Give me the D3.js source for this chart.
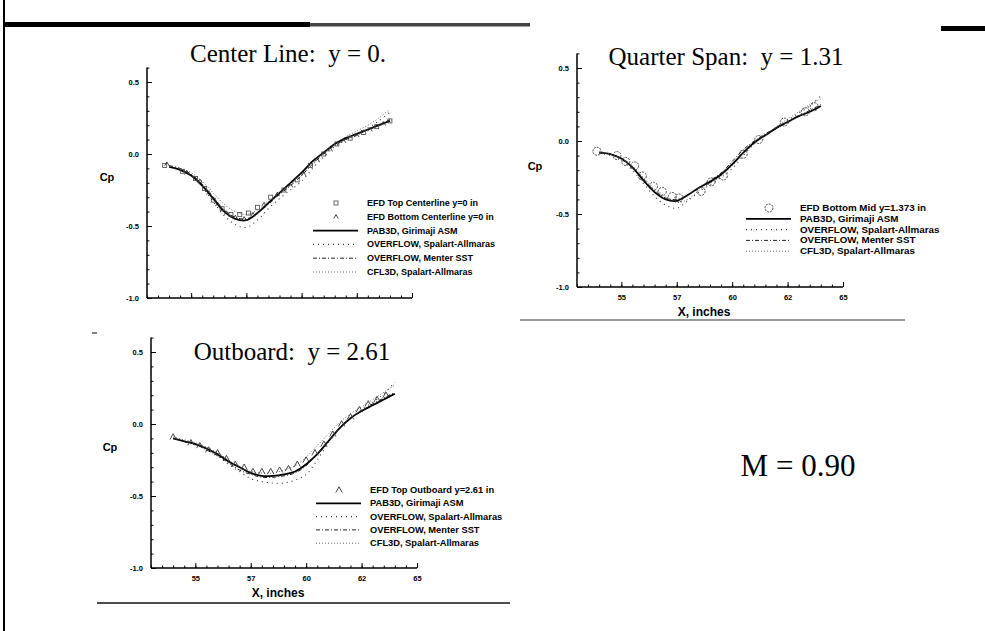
<!DOCTYPE html>
<html>
<head>
<meta charset="utf-8">
<script src="https://cdn.jsdelivr.net/npm/d3@7"></script>
<style>
  body { margin: 0; background: #fff; }
  svg { display: block; }
  .tick text { font-family: "Liberation Sans", Arial, sans-serif; font-weight: bold; font-size: 7.5px; fill: #000; }
  .lg { font-family: "Liberation Sans", Arial, sans-serif; font-weight: bold; fill: #000; }
  .ttl { font-family: "Liberation Serif", "Times New Roman", serif; fill: #000; }
  .lab { font-family: "Liberation Sans", Arial, sans-serif; font-weight: bold; fill: #000; }
</style>
</head>
<body>
<div id="chart"></div>
<script>
// x stations of the computed curves (inches)
const modelX = [54, 54.5, 55, 55.5, 56, 56.5, 57, 57.5, 58, 58.5, 59, 59.5, 60, 60.5, 61, 61.5, 62, 62.5, 63, 63.5, 64];

const modelNames = ["PAB3D, Girimaji ASM", "OVERFLOW, Spalart-Allmaras", "OVERFLOW, Menter SST", "CFL3D, Spalart-Allmaras"];

// center line y = 0
const centerPab3d = [-0.09, -0.11, -0.15, -0.22, -0.31, -0.40, -0.45, -0.46, -0.41, -0.34, -0.27, -0.20, -0.13, -0.05, 0.01, 0.07, 0.11, 0.14, 0.17, 0.20, 0.23];
const centerOvfSa = [-0.09, -0.11, -0.15, -0.23, -0.33, -0.43, -0.49, -0.51, -0.46, -0.38, -0.31, -0.25, -0.19, -0.10, -0.02, 0.05, 0.10, 0.14, 0.18, 0.23, 0.29];
const centerOvfSst = [-0.08, -0.10, -0.14, -0.21, -0.30, -0.39, -0.44, -0.45, -0.41, -0.35, -0.28, -0.22, -0.15, -0.07, 0.00, 0.06, 0.10, 0.13, 0.17, 0.20, 0.24];
const centerCfl3d = [-0.08, -0.10, -0.13, -0.19, -0.27, -0.35, -0.40, -0.42, -0.39, -0.33, -0.27, -0.21, -0.14, -0.06, 0.01, 0.07, 0.12, 0.16, 0.20, 0.25, 0.31];
const centerTopX = [53.8, 54.6, 55.2, 55.6, 56.0, 56.4, 56.8, 57.2, 57.6, 58.0, 58.6, 59.2, 59.8, 60.4, 61.0, 61.6, 62.2, 62.8, 63.4, 64.0];
const centerTopCp = [-0.08, -0.12, -0.17, -0.24, -0.32, -0.38, -0.42, -0.42, -0.41, -0.37, -0.30, -0.25, -0.18, -0.08, 0.00, 0.07, 0.11, 0.15, 0.19, 0.23];
const centerBotX = [53.9, 54.8, 55.4, 55.8, 56.2, 56.6, 57.0, 57.4, 57.8, 58.3, 58.9, 59.5, 60.1, 60.7, 61.3, 61.9, 62.5, 63.1, 63.7];
const centerBotCp = [-0.07, -0.13, -0.19, -0.27, -0.35, -0.41, -0.44, -0.45, -0.42, -0.35, -0.28, -0.22, -0.14, -0.04, 0.03, 0.09, 0.13, 0.17, 0.21];

// quarter span y = 1.31
const quarterPab3d = [-0.08, -0.09, -0.12, -0.18, -0.27, -0.35, -0.40, -0.41, -0.37, -0.32, -0.28, -0.23, -0.16, -0.08, -0.01, 0.04, 0.09, 0.13, 0.17, 0.20, 0.24];
const quarterOvfSa = [-0.08, -0.10, -0.13, -0.20, -0.29, -0.38, -0.44, -0.46, -0.41, -0.35, -0.30, -0.25, -0.19, -0.10, -0.02, 0.04, 0.09, 0.14, 0.19, 0.24, 0.31];
const quarterOvfSst = [-0.08, -0.09, -0.12, -0.18, -0.26, -0.34, -0.39, -0.40, -0.37, -0.32, -0.27, -0.22, -0.14, -0.06, 0.00, 0.05, 0.09, 0.13, 0.17, 0.21, 0.25];
const quarterCfl3d = [-0.07, -0.09, -0.12, -0.17, -0.25, -0.33, -0.38, -0.42, -0.40, -0.34, -0.29, -0.24, -0.17, -0.09, -0.02, 0.04, 0.10, 0.15, 0.20, 0.25, 0.29];
const quarterEfdX = [53.9, 54.8, 55.2, 55.6, 55.95, 56.45, 56.85, 57.3, 57.6, 58.6, 59.05, 59.6, 60.5, 61.2, 62.35, 63.3, 63.7];
const quarterEfdCp = [-0.07, -0.10, -0.14, -0.17, -0.24, -0.31, -0.345, -0.38, -0.39, -0.345, -0.28, -0.24, -0.09, 0.01, 0.13, 0.20, 0.235];

// outboard y = 2.61
const outPab3d = [-0.10, -0.12, -0.14, -0.17, -0.21, -0.26, -0.30, -0.34, -0.36, -0.36, -0.35, -0.33, -0.28, -0.21, -0.12, -0.03, 0.04, 0.09, 0.13, 0.17, 0.21];
const outOvfSa = [-0.10, -0.12, -0.14, -0.17, -0.22, -0.28, -0.33, -0.38, -0.40, -0.41, -0.41, -0.39, -0.35, -0.25, -0.13, -0.03, 0.04, 0.10, 0.15, 0.21, 0.29];
const outOvfSst = [-0.10, -0.12, -0.14, -0.18, -0.22, -0.27, -0.32, -0.35, -0.37, -0.37, -0.36, -0.34, -0.29, -0.21, -0.12, -0.03, 0.04, 0.09, 0.14, 0.18, 0.22];
const outCfl3d = [-0.09, -0.11, -0.13, -0.16, -0.20, -0.25, -0.30, -0.33, -0.34, -0.34, -0.32, -0.29, -0.23, -0.15, -0.07, 0.01, 0.07, 0.12, 0.17, 0.22, 0.27];
const outEfdX = [54.0, 54.8, 55.2, 55.6, 56.0, 56.4, 56.8, 57.2, 57.6, 58.0, 58.4, 58.8, 59.2, 59.6, 60.0, 60.4, 60.8, 61.2, 61.6, 62.0, 62.4, 62.8, 63.2, 63.6];
const outEfdCp = [-0.09, -0.13, -0.15, -0.18, -0.20, -0.24, -0.28, -0.30, -0.33, -0.33, -0.33, -0.32, -0.31, -0.28, -0.25, -0.20, -0.14, -0.07, 0.00, 0.05, 0.10, 0.14, 0.17, 0.20];

const yTicks = [-1.0, -0.5, 0.0, 0.5];
const xTicks = [55, 57.5, 60, 62.5, 65];
const xTickLabels = ["55", "57", "60", "62", "65"];

const W = 985, H = 631;
const svg = d3.select("#chart").append("svg").attr("width", W).attr("height", H);
svg.append("rect").attr("width", W).attr("height", H).attr("fill", "#fff");

// page scan marks
svg.append("line").attr("x1", 4).attr("y1", 0).attr("x2", 4).attr("y2", H)
  .attr("stroke", "#000").attr("stroke-width", 2);
svg.append("rect").attr("x", 5).attr("y", 22).attr("width", 305).attr("height", 5).attr("fill", "#000");
svg.append("rect").attr("x", 310).attr("y", 23).attr("width", 220).attr("height", 3.5).attr("fill", "#444");
svg.append("rect").attr("x", 941).attr("y", 26).attr("width", 44).attr("height", 5).attr("fill", "#000");
svg.append("line").attr("x1", 92).attr("y1", 333).attr("x2", 97).attr("y2", 333).attr("stroke", "#000");
svg.append("line").attr("x1", 520).attr("y1", 320).attr("x2", 905).attr("y2", 320).attr("stroke", "#333").attr("stroke-width", 1.2);
svg.append("line").attr("x1", 97).attr("y1", 603).attr("x2", 510).attr("y2", 603).attr("stroke", "#111").attr("stroke-width", 1.5);

const styles = [
  { dash: null, width: 1.8, color: "#000" },
  { dash: "1,4", width: 1.1, color: "#333" },
  { dash: "4,2,1,2", width: 1, color: "#222" },
  { dash: "1,2", width: 0.9, color: "#555" }
];

function marker(g, type, x, y) {
  if (type === "circle") {
    g.append("circle").attr("cx", x).attr("cy", y).attr("r", 4)
      .attr("fill", "none").attr("stroke", "#333").attr("stroke-width", 0.9).attr("stroke-dasharray", "2,1");
  } else if (type === "square") {
    g.append("rect").attr("x", x - 2).attr("y", y - 2).attr("width", 4).attr("height", 4)
      .attr("fill", "none").attr("stroke", "#444").attr("stroke-width", 0.8);
  } else {
    const s = type === "tri" ? 3.2 : 2.2;
    g.append("path").attr("d", `M${x - s},${y + s * 0.8}L${x},${y - s}L${x + s},${y + s * 0.8}`)
      .attr("fill", "none").attr("stroke", "#333").attr("stroke-width", 0.9);
  }
}

function drawPanel(p) {
  const x = d3.scaleLinear().domain([53, 65]).range([p.left, p.right]);
  const y = d3.scaleLinear().domain([-1, 0.5]).range([p.bottom, p.half]);
  const g = svg.append("g");

  // minor ticks
  g.append("g").attr("transform", `translate(${p.left},0)`)
    .call(d3.axisLeft(y).tickValues(d3.range(-10, 7).map(d => d / 10)).tickSize(-2.5).tickFormat(""))
    .call(a => a.select(".domain").remove());
  g.append("g").attr("transform", `translate(0,${p.bottom})`)
    .call(d3.axisBottom(x).tickValues(d3.range(106, 131).map(d => d / 2)).tickSize(-2.5).tickFormat(""))
    .call(a => a.select(".domain").remove());

  // major ticks
  const ya = g.append("g").attr("transform", `translate(${p.left},0)`)
    .call(d3.axisLeft(y).tickValues(yTicks).tickSize(-5).tickPadding(8).tickFormat(d => d.toFixed(1)));
  ya.select(".domain").attr("d", `M0,${y(0.6)}V${p.bottom}`).attr("stroke-width", 1.5);
  const xa = g.append("g").attr("transform", `translate(0,${p.bottom})`)
    .call(d3.axisBottom(x).tickValues(xTicks).tickSize(-5).tickPadding(8)
      .tickFormat((d, i) => p.showX ? xTickLabels[i] : ""));
  xa.select(".domain").attr("d", `M${p.left},0H${p.right}`).attr("stroke-width", 1.5);
  g.selectAll(".tick line").attr("stroke", "#000");

  g.append("text").attr("class", "lab").attr("font-size", 11)
    .attr("x", p.cp[0]).attr("y", p.cp[1]).attr("text-anchor", "middle").text("Cp");
  if (p.showX) {
    g.append("text").attr("class", "lab").attr("font-size", 12)
      .attr("x", (p.left + p.right) / 2 - 6).attr("y", p.bottom + 29)
      .attr("text-anchor", "middle").text("X, inches");
  }
  g.append("text").attr("class", "ttl").attr("font-size", 25).attr("x", p.title[1]).attr("y", p.title[2])
    .attr("text-anchor", "middle").attr("xml:space", "preserve").text(p.title[0]);

  // computed curves
  const line = d3.line().curve(d3.curveCatmullRom).x(d => x(d[0])).y(d => y(d[1]));
  p.models.forEach((vals, i) => {
    g.append("path").datum(modelX.map((v, j) => [v, vals[j]]))
      .attr("d", line).attr("fill", "none")
      .attr("stroke", styles[i].color).attr("stroke-width", styles[i].width)
      .attr("stroke-dasharray", styles[i].dash);
  });

  // experiment
  p.efd.forEach(set => {
    set.xs.forEach((v, j) => marker(g, set.type, x(v), y(set.cps[j])));
  });

  // legend
  const lg = g.append("g");
  const rows = p.efd.map(s => ({ name: s.name, type: s.type }))
    .concat(modelNames.map((n, i) => ({ name: n, style: i })));
  rows.forEach((r, i) => {
    const ry = p.legend.y + i * p.legend.dy;
    if (r.type) {
      marker(lg, r.type, p.legend.x - 31, ry - 3);
    } else {
      const s = styles[r.style];
      lg.append("line").attr("x1", p.legend.x - 54).attr("x2", p.legend.x - 9)
        .attr("y1", ry - 3).attr("y2", ry - 3)
        .attr("stroke", s.color).attr("stroke-width", s.width).attr("stroke-dasharray", s.dash);
    }
    lg.append("text").attr("class", "lg").attr("font-size", p.legend.fs)
      .attr("x", p.legend.x).attr("y", ry).text(r.name);
  });
}

drawPanel({
  left: 147, right: 412, bottom: 298, half: 82, showX: false,
  title: ["Center Line:  y = 0.", 288, 62], cp: [107, 181],
  models: [centerPab3d, centerOvfSa, centerOvfSst, centerCfl3d],
  efd: [
    { name: "EFD Top Centerline y=0 in", type: "square", xs: centerTopX, cps: centerTopCp },
    { name: "EFD Bottom Centerline y=0 in", type: "smalltri", xs: centerBotX, cps: centerBotCp }
  ],
  legend: { x: 367, y: 206, dy: 13.8, fs: 9 }
});

drawPanel({
  left: 577, right: 843, bottom: 287, half: 68, showX: true,
  title: ["Quarter Span:  y = 1.31", 726, 65], cp: [535, 170],
  models: [quarterPab3d, quarterOvfSa, quarterOvfSst, quarterCfl3d],
  efd: [
    { name: "EFD Bottom Mid y=1.373 in", type: "circle", xs: quarterEfdX, cps: quarterEfdCp }
  ],
  legend: { x: 800, y: 211, dy: 10.8, fs: 9.8 }
});

drawPanel({
  left: 151, right: 417, bottom: 568, half: 352, showX: true,
  title: ["Outboard:  y = 2.61", 292, 360], cp: [110, 451],
  models: [outPab3d, outOvfSa, outOvfSst, outCfl3d],
  efd: [
    { name: "EFD Top Outboard y=2.61 in", type: "tri", xs: outEfdX, cps: outEfdCp }
  ],
  legend: { x: 370, y: 493, dy: 13.3, fs: 9.3 }
});

svg.append("text").attr("class", "ttl").attr("font-size", 31)
  .attr("x", 798).attr("y", 476).attr("text-anchor", "middle").text("M = 0.90");
</script>
</body>
</html>
